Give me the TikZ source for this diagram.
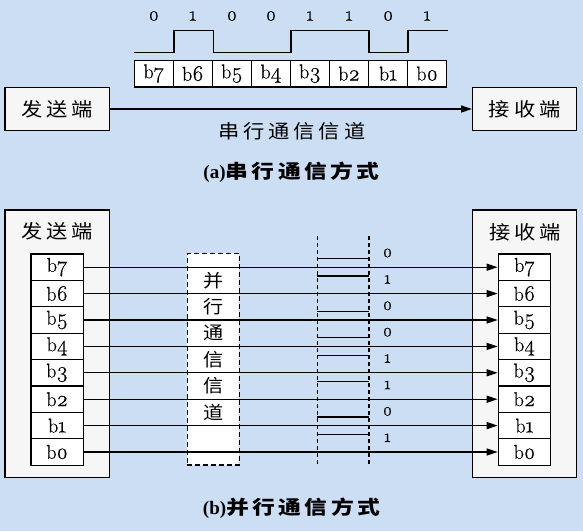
\documentclass[tikz,border=0pt]{standalone}
\usepackage{fontspec}
\usetikzlibrary{arrows.meta}
\newfontfamily\cjk{Noto Sans CJK SC}[FakeStretch=1.12,LetterSpace=20]
\newfontfamily\cjkv{Noto Sans CJK SC}[FakeStretch=1.12]
\newfontfamily\cjkt{Noto Sans CJK SC}[FakeStretch=1.2,LetterSpace=18]
\newfontfamily\serb{Liberation Serif}
\newfontfamily\lmo{Latin Modern Roman}[Numbers=OldStyle,FakeBold=0.6]
\newcommand\bsub[1]{b{\fontsize{22}{22}\selectfont #1}}
\definecolor{bgblue}{RGB}{204,222,244}
\definecolor{boxgray}{RGB}{246,246,246}
\tikzset{
  frame/.style={draw=black, line width=1.4pt, fill=boxgray, inner sep=0pt},
  cell/.style={draw=black, line width=1.3pt, fill=white, inner sep=0pt,
    font=\fontsize{20}{22}\selectfont\lmo},
  dig/.style={inner sep=0pt, font=\fontsize{20}{22}\selectfont\lmo},
  smalldig/.style={inner sep=0pt, font=\fontsize{18}{20}\selectfont\lmo},
  cjklbl/.style={inner sep=0pt, font=\fontsize{19}{21}\selectfont\cjk},
  cjkv/.style={inner sep=0pt, font=\fontsize{18}{20}\selectfont\cjkv},
  titlelbl/.style={inner sep=0pt, font=\fontsize{19}{21}\selectfont\bfseries},
  wave/.style={line width=1.4pt},
  arr/.style={line width=1.3pt, -{Triangle[length=11pt,width=7pt]}},
  clk/.style={line width=1.4pt, dash pattern=on 4pt off 3pt},
  dbox/.style={draw=black, line width=1.4pt, dash pattern=on 5pt off 3pt, fill=white},
  seg/.style={line width=1.3pt}
}
\begin{document}
\begin{tikzpicture}[x=1pt,y=-1pt]
\useasboundingbox (0,0) rectangle (583,531);
\fill[bgblue] (0,0) rectangle (583,531);

% ---------- (a) serial ----------
\foreach \i/\d/\v in {0/7/0,1/6/1,2/5/0,3/4/0,4/3/1,5/2/1,6/1/0,7/0/1}{
  \node[cell, minimum width=39.05pt, minimum height=26.7pt] (s\d) at ({153.825+39.05*\i},73.65) {\bsub{\d}};
  \node[dig] (t\d) at ({153.825+39.05*\i},16) {\v};
}
\draw[wave] (134.3,52.3) -- (174,52.3) -- (174,30.7) -- (213.3,30.7) -- (213.3,52.3)
  -- (291,52.3) -- (291,30.7) -- (369,30.7) -- (369,52.3) -- (408,52.3)
  -- (408,30.7) -- (447.5,30.7);

\node[frame, minimum width=104.3pt, minimum height=43.4pt, font=\fontsize{19}{21}\selectfont\cjk] (snda) at (57.15,109) {发送端};
\node[frame, minimum width=104pt, minimum height=43.4pt, font=\fontsize{19}{21}\selectfont\cjk] (rcva) at (524.7,109) {接收端};
\draw[arr] (snda.east) -- (rcva.west);
\node[cjklbl] (chan) at (292,131) {串行通信信道};
\node[titlelbl] (ta) at (291.5,172) {\serb (a)\cjkt 串行通信方式};

% ---------- (b) parallel ----------
\node[frame, minimum width=104.3pt, minimum height=267.5pt] (sndb) at (57.15,343.75) {};
\node[frame, minimum width=104pt, minimum height=267.5pt] (rcvb) at (524.7,343.75) {};
\node[cjklbl] (sndbl) at (57.5,231) {发送端};
\node[cjklbl] (rcvbl) at (525,232) {接收端};

\node[dbox, minimum width=52pt, minimum height=211.7pt] (pbox) at (213.3,359.15) {};
\foreach \c [count=\k] in {并,行,通,信,信,道}{
  \node[cjkv] (pc\k) at (213.3,{254+26.4*\k}) {\c};
}

\foreach \i/\d in {0/7,1/6,2/5,3/4,4/3,5/2,6/1,7/0}{
  \node[cell, minimum width=52.3pt, minimum height=26.4pt] (p\d) at (57.15,{267.2+26.4*\i}) {\bsub{\d}};
  \node[cell, minimum width=52.4pt, minimum height=26.4pt] (r\d) at (524.5,{267.2+26.4*\i}) {\bsub{\d}};
}
\foreach \d in {7,6,...,0}{
  \draw[arr] (p\d.east) -- (r\d.west);
}

\coordinate (cl1) at (317.3,236);
\coordinate (cl2) at (317.3,465);
\coordinate (cr1) at (369,236);
\coordinate (cr2) at (369,465);
\draw[clk] (cl1) -- (cl2);
\draw[clk] (cr1) -- (cr2);
\foreach \k/\v/\o in {0/0/4.5,1/1/-4.3,2/0/4.5,3/0/4.5,4/1/-4.3,5/1/-4.3,6/0/4.5,7/1/-4.3}{
  \draw[seg] (317.3,{254+26.4*\k+\o}) -- (369,{254+26.4*\k+\o});
  \node[smalldig] (bl\k) at (387.5,{253+26.4*\k}) {\v};
}

\node[titlelbl] (tb) at (291.5,508) {\serb (b)\cjkt 并行通信方式};
\end{tikzpicture}
\end{document}
